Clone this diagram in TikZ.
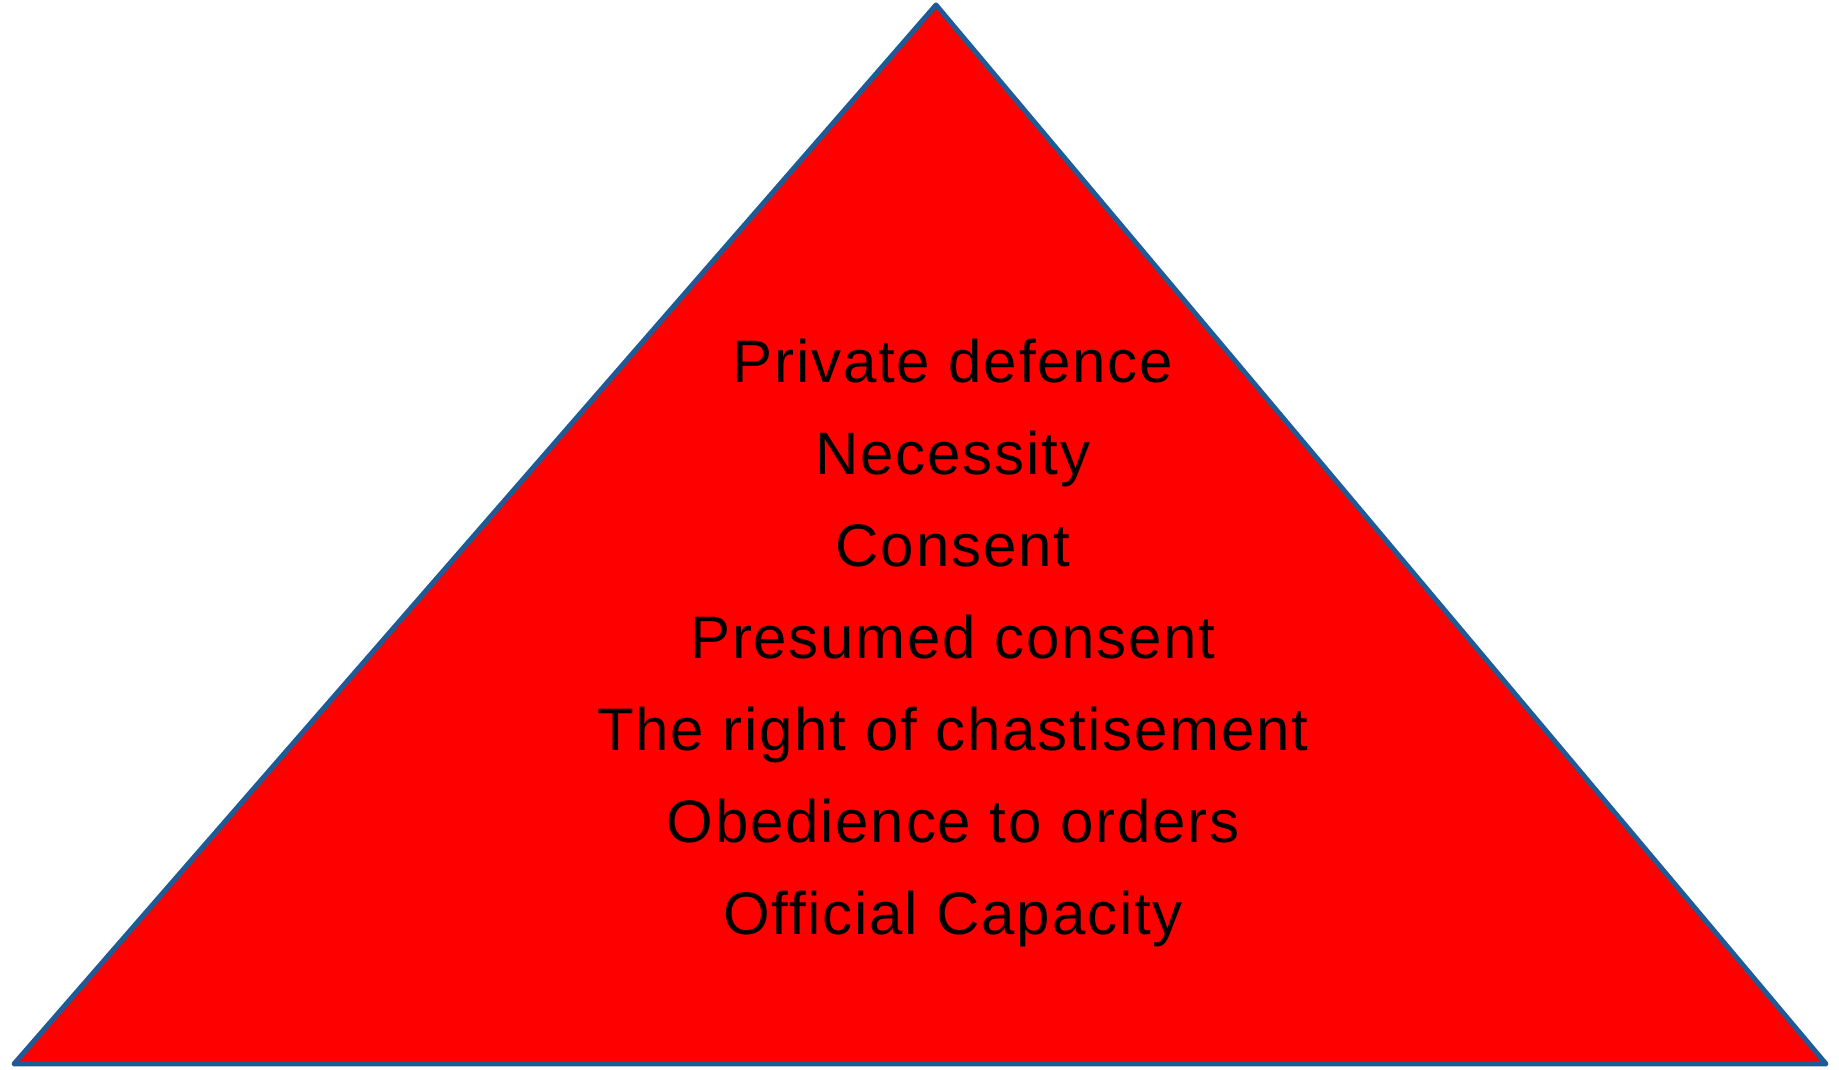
\documentclass[tikz,border=0pt]{standalone}
\usepackage{fontspec}
\setmainfont{Liberation Sans}[LetterSpace=3]
\usepackage{xcolor}
\definecolor{edgeblue}{HTML}{1F5A96}
\definecolor{pyrred}{HTML}{FF0000}

\begin{document}
\begin{tikzpicture}[x=1pt,y=1pt]
		\useasboundingbox (0,0) rectangle (1839,1070);
		\begin{scope}
			\coordinate (top) at (936,1065);
			\coordinate (bl) at (14,6);
			\coordinate (br) at (1826,6);
			\draw[draw=edgeblue,fill=pyrred,line width=5pt,line join=round] (top) -- (br) -- (bl) -- cycle;
			\foreach \Nombre/\Texte in {1/Private defence,2/Necessity,3/Consent,4/Presumed consent,5/The right of chastisement,6/Obedience to orders,7/Official Capacity}
			\node[anchor=base,font=\fontsize{60}{72}\selectfont,inner sep=0pt] (l\Nombre) at (953,{687-92*(\Nombre-1)}) {\Texte};
		\end{scope}
	\end{tikzpicture}
\end{document}
